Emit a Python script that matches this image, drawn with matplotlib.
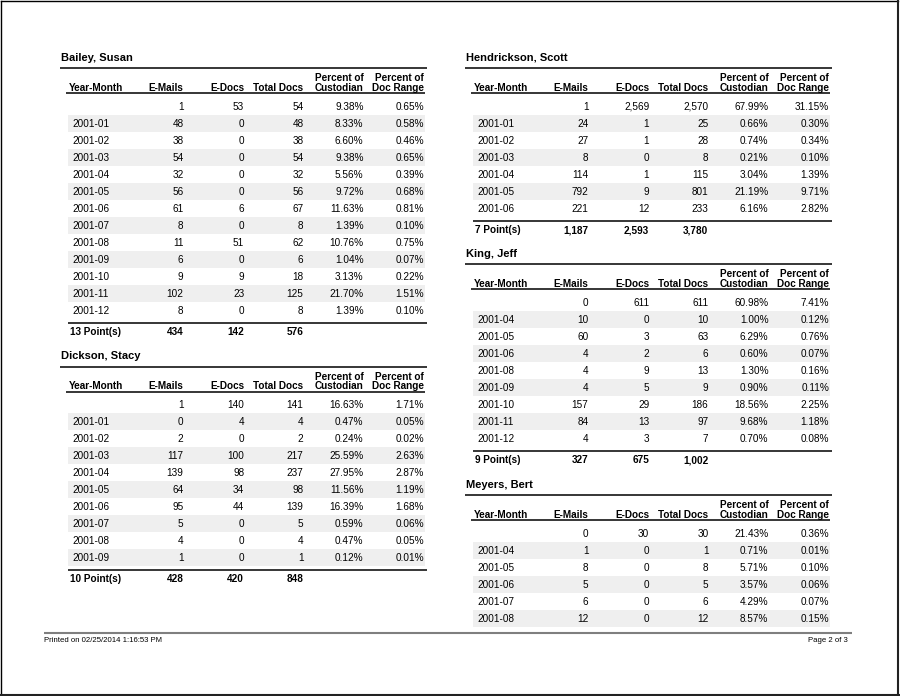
import matplotlib
matplotlib.use("Agg")
import matplotlib.pyplot as plt
from matplotlib.patches import Rectangle
from matplotlib import font_manager

plt.rcParams['font.family'] = ['Liberation Sans', 'DejaVu Sans']

# ---------------- data ----------------
columns = ["Year-Month", "E-Mails", "E-Docs", "Total Docs", "Percent of\nCustodian", "Percent of\nDoc Range"]

bailey_name = "Bailey, Susan"
bailey_months = ["", "2001-01", "2001-02", "2001-03", "2001-04", "2001-05", "2001-06",
                 "2001-07", "2001-08", "2001-09", "2001-10", "2001-11", "2001-12"]
bailey_emails = [1, 48, 38, 54, 32, 56, 61, 8, 11, 6, 9, 102, 8]
bailey_edocs = [53, 0, 0, 0, 0, 0, 6, 0, 51, 0, 9, 23, 0]
bailey_total = [54, 48, 38, 54, 32, 56, 67, 8, 62, 6, 18, 125, 8]
bailey_pct_cust = [9.38, 8.33, 6.60, 9.38, 5.56, 9.72, 11.63, 1.39, 10.76, 1.04, 3.13, 21.70, 1.39]
bailey_pct_range = [0.65, 0.58, 0.46, 0.65, 0.39, 0.68, 0.81, 0.10, 0.75, 0.07, 0.22, 1.51, 0.10]
bailey_footer = ["13 Point(s)", 434, 142, 576]

dickson_name = "Dickson, Stacy"
dickson_months = ["", "2001-01", "2001-02", "2001-03", "2001-04", "2001-05", "2001-06",
                  "2001-07", "2001-08", "2001-09"]
dickson_emails = [1, 0, 2, 117, 139, 64, 95, 5, 4, 1]
dickson_edocs = [140, 4, 0, 100, 98, 34, 44, 0, 0, 0]
dickson_total = [141, 4, 2, 217, 237, 98, 139, 5, 4, 1]
dickson_pct_cust = [16.63, 0.47, 0.24, 25.59, 27.95, 11.56, 16.39, 0.59, 0.47, 0.12]
dickson_pct_range = [1.71, 0.05, 0.02, 2.63, 2.87, 1.19, 1.68, 0.06, 0.05, 0.01]
dickson_footer = ["10 Point(s)", 428, 420, 848]

hendrickson_name = "Hendrickson, Scott"
hendrickson_months = ["", "2001-01", "2001-02", "2001-03", "2001-04", "2001-05", "2001-06"]
hendrickson_emails = [1, 24, 27, 8, 114, 792, 221]
hendrickson_edocs = [2569, 1, 1, 0, 1, 9, 12]
hendrickson_total = [2570, 25, 28, 8, 115, 801, 233]
hendrickson_pct_cust = [67.99, 0.66, 0.74, 0.21, 3.04, 21.19, 6.16]
hendrickson_pct_range = [31.15, 0.30, 0.34, 0.10, 1.39, 9.71, 2.82]
hendrickson_footer = ["7 Point(s)", 1187, 2593, 3780]

king_name = "King, Jeff"
king_months = ["", "2001-04", "2001-05", "2001-06", "2001-08", "2001-09", "2001-10",
               "2001-11", "2001-12"]
king_emails = [0, 10, 60, 4, 4, 4, 157, 84, 4]
king_edocs = [611, 0, 3, 2, 9, 5, 29, 13, 3]
king_total = [611, 10, 63, 6, 13, 9, 186, 97, 7]
king_pct_cust = [60.98, 1.00, 6.29, 0.60, 1.30, 0.90, 18.56, 9.68, 0.70]
king_pct_range = [7.41, 0.12, 0.76, 0.07, 0.16, 0.11, 2.25, 1.18, 0.08]
king_footer = ["9 Point(s)", 327, 675, 1002]

meyers_name = "Meyers, Bert"
meyers_months = ["", "2001-04", "2001-05", "2001-06", "2001-07", "2001-08"]
meyers_emails = [0, 1, 8, 5, 6, 12]
meyers_edocs = [30, 0, 0, 0, 0, 0]
meyers_total = [30, 1, 8, 5, 6, 12]
meyers_pct_cust = [21.43, 0.71, 5.71, 3.57, 4.29, 8.57]
meyers_pct_range = [0.36, 0.01, 0.10, 0.06, 0.07, 0.15]
meyers_footer = None

printed_text = "Printed on 02/25/2014 1:16:53 PM"
page_text = "Page 2 of 3"

# ---------------- drawing ----------------
W, H = 900, 696
fig = plt.figure(figsize=(W / 100, H / 100), dpi=100)
ax = fig.add_axes([0, 0, 1, 1])
ax.set_xlim(0, W)
ax.set_ylim(H, 0)
ax.axis('off')

TXT = '#000000'
SHADE = '#efefef'
FS = 7.2
ROW = 17.0


def put(x, yc, s, ha='left', bold=False, size=FS, color=TXT, family=None):
    kw = {}
    if family is not None:
        kw['family'] = family
    ax.text(x, yc, s, ha=ha, va='center_baseline', fontsize=size,
            fontweight='bold' if bold else 'normal', color=color, **kw)


def draw_table(x0, top, name, months, emails, edocs, total, pcust, prange, footer):
    xl = x0 + 11.0
    xr = [x0 + 124.0, x0 + 184.7, x0 + 244.0, x0 + 304.0, x0 + 364.7]
    right = x0 + 367.5
    put(x0 + 1.5, top - 11.7, name, bold=True, size=8.0)
    ax.plot([x0, right], [top, top], color='black', lw=1.1, solid_capstyle='butt')
    put(xl - 1.5, top + 18.5, columns[0], bold=True)
    for j, c in enumerate(columns[1:]):
        parts = c.split("\n")
        if len(parts) == 2:
            put(xr[j], top + 8.8, parts[0], ha='right', bold=True)
            put(xr[j], top + 18.5, parts[1], ha='right', bold=True)
        else:
            put(xr[j], top + 18.5, parts[0], ha='right', bold=True)
    ax.plot([x0 + 6.5, right - 2], [top + 25.0, top + 25.0], color='black', lw=1.1,
            solid_capstyle='butt')
    n = len(months)
    for i in range(n):
        yc = top + 37.5 + ROW * i
        if i % 2 == 1:
            ax.add_patch(Rectangle((x0 + 8.5, yc - 8.0), right - 2.5 - (x0 + 8.5), ROW,
                                   facecolor=SHADE, edgecolor='none', zorder=0))
        put(xl + 1.5, yc, months[i])
        vals = [f"{emails[i]:,}", f"{edocs[i]:,}", f"{total[i]:,}",
                f"{pcust[i]:.2f}%", f"{prange[i]:.2f}%"]
        for j, v in enumerate(vals):
            put(xr[j], yc, v, ha='right')
    if footer is not None:
        yb = top + 37.5 + ROW * (n - 1) + 12.8
        ax.plot([x0 + 8.5, right], [yb, yb], color='black', lw=1.1, solid_capstyle='butt')
        yf = yb + 8.5
        put(xl - 0.5, yf, footer[0], bold=True)
        for j in range(3):
            put(xr[j], yf, f"{footer[j + 1]:,}", ha='right', bold=True)


LX = 59.5
RX = LX + 405.0
draw_table(LX, 68.3, bailey_name, bailey_months, bailey_emails, bailey_edocs, bailey_total,
           bailey_pct_cust, bailey_pct_range, bailey_footer)
draw_table(LX, 366.7, dickson_name, dickson_months, dickson_emails, dickson_edocs, dickson_total,
           dickson_pct_cust, dickson_pct_range, dickson_footer)
draw_table(RX, 68.3, hendrickson_name, hendrickson_months, hendrickson_emails, hendrickson_edocs,
           hendrickson_total, hendrickson_pct_cust, hendrickson_pct_range, hendrickson_footer)
draw_table(RX, 264.3, king_name, king_months, king_emails, king_edocs, king_total,
           king_pct_cust, king_pct_range, king_footer)
draw_table(RX, 495.3, meyers_name, meyers_months, meyers_emails, meyers_edocs, meyers_total,
           meyers_pct_cust, meyers_pct_range, meyers_footer)

# page footer (condensed face if available)
names = {f.name for f in font_manager.fontManager.ttflist}
if 'Liberation Sans Narrow' in names:
    foot_family, foot_size = ['Liberation Sans Narrow', 'Liberation Sans'], 6.4
else:
    foot_family, foot_size = ['Liberation Sans', 'DejaVu Sans'], 5.6
ax.plot([44, 852], [632.5, 632.5], color='#7f7f7f', lw=1.5, solid_capstyle='butt')
put(44, 639.5, printed_text, size=foot_size, family=foot_family)
put(848, 639.5, page_text, ha='right', size=foot_size, family=foot_family)

# page border
ax.plot([0.5, 0.5], [0.5, 694.5], color='black', lw=1.0)
ax.plot([0.5, 898], [0.5, 0.5], color='black', lw=1.0)
ax.plot([898.3, 898.3], [0.5, 696], color='#222222', lw=1.5)
ax.plot([0.5, 900], [694.8, 694.8], color='#222222', lw=1.5)

fig.savefig("out.png", dpi=100)
